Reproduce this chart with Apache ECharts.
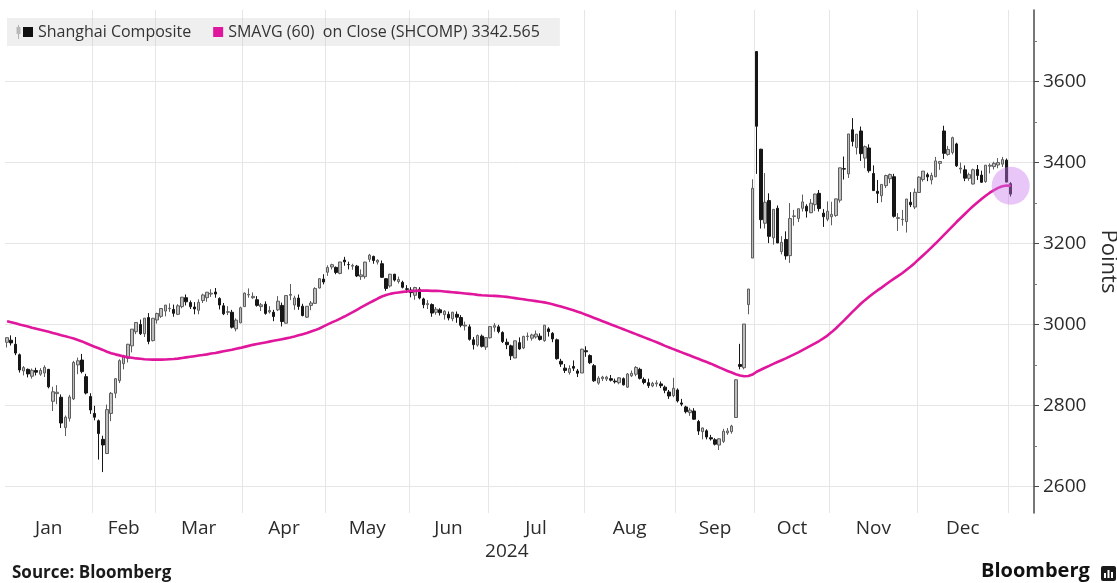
<!DOCTYPE html>
<html>
<head>
<meta charset="utf-8">
<style>
  html, body { margin: 0; padding: 0; background: #ffffff; }
  #chart { width: 1117px; height: 583px; }
</style>
<script src="https://cdn.jsdelivr.net/npm/echarts@6/dist/echarts.min.js"></script>
</head>
<body>
<div id="chart"></div>
<script>
// Trading sessions of the Shanghai exchange, Jan 3 2024 to Jan 2 2025 (day of month per month)
const monthNames = ['Jan', 'Feb', 'Mar', 'Apr', 'May', 'Jun', 'Jul', 'Aug', 'Sep', 'Oct', 'Nov', 'Dec'];
const yearLabel = '2024';
const sessionDays = [
  [3, 4, 5, 8, 9, 10, 11, 12, 15, 16, 17, 18, 19, 22, 23, 24, 25, 26, 29, 30, 31],
  [1, 2, 5, 6, 7, 8, 19, 20, 21, 22, 23, 26, 27, 28, 29],
  [1, 4, 5, 6, 7, 8, 11, 12, 13, 14, 15, 18, 19, 20, 21, 22, 25, 26, 27, 28, 29],
  [1, 2, 3, 8, 9, 10, 11, 12, 15, 16, 17, 18, 19, 22, 23, 24, 25, 26, 29, 30],
  [6, 7, 8, 9, 10, 13, 14, 15, 16, 17, 20, 21, 22, 23, 24, 27, 28, 29, 30, 31],
  [3, 4, 5, 6, 7, 11, 12, 13, 14, 17, 18, 19, 20, 21, 24, 25, 26, 27, 28],
  [1, 2, 3, 4, 5, 8, 9, 10, 11, 12, 15, 16, 17, 18, 19, 22, 23, 24, 25, 26, 29, 30, 31],
  [1, 2, 5, 6, 7, 8, 9, 12, 13, 14, 15, 16, 19, 20, 21, 22, 23, 26, 27, 28, 29, 30],
  [2, 3, 4, 5, 6, 9, 10, 11, 12, 13, 18, 19, 20, 23, 24, 25, 26, 27, 30],
  [8, 9, 10, 11, 14, 15, 16, 17, 18, 21, 22, 23, 24, 25, 28, 29, 30, 31],
  [1, 4, 5, 6, 7, 8, 11, 12, 13, 14, 15, 18, 19, 20, 21, 22, 25, 26, 27, 28, 29],
  [2, 3, 4, 5, 6, 9, 10, 11, 12, 13, 16, 17, 18, 19, 20, 23, 24, 25, 26, 27, 30, 31]
];
const nextYearDays = [2]; // Jan 2025

// Shanghai Composite daily prices, one value per session above
const openPx = [
  2955.9, 2961, 2951, 2925, 2885, 2889, 2872, 2886, 2877, 2880, 2889, 2810, 2829, 2820, 2745, 2768, 2816, 2900, 2912, 2871, 2822,
  2780, 2762, 2716, 2681, 2780, 2830, 2861, 2903, 2916, 2947, 2982, 3000, 2977, 3017, 2960,
  3011, 3020, 3033, 3039, 3037, 3025, 3044, 3066, 3054, 3043, 3035, 3059, 3066, 3075, 3080, 3064, 3046, 3030, 3030, 2989, 3004,
  3044, 3073, 3066, 3061, 3044, 3050, 3031, 3030, 3036, 3047, 3003, 3072, 3048, 3065, 3045, 3018, 3047, 3052, 3090, 3112,
  3129, 3142, 3141, 3126, 3159, 3148, 3144, 3144, 3118, 3118, 3161, 3168, 3154, 3150, 3113, 3095, 3124, 3106, 3104, 3088,
  3085, 3072, 3087, 3063, 3049, 3049, 3030, 3036, 3024, 3025, 3014, 3025, 3017, 2996, 2994, 2962, 2949, 2971, 2944,
  2967, 2993, 2994, 2980, 2956, 2947, 2917, 2955, 2942, 2970, 2966, 2969, 2971, 2960, 2989, 2978, 2962, 2909, 2892, 2881, 2896, 2885, 2880,
  2935, 2923, 2898, 2855, 2866, 2865, 2866, 2860, 2856, 2866, 2845, 2873, 2877, 2889, 2864, 2856, 2848, 2853, 2853, 2845, 2833, 2824,
  2838, 2806, 2796, 2782, 2786, 2760, 2735, 2737, 2720, 2715, 2702, 2711, 2732, 2735, 2770, 2901, 2893, 3049, 3164,
  3674.4, 3433, 3250, 3306, 3214, 3287, 3180, 3210, 3170, 3267, 3262, 3287, 3292, 3276, 3296, 3324, 3275, 3260,
  3266, 3269, 3307, 3385, 3372, 3481, 3437, 3478, 3411, 3436, 3373, 3329, 3318, 3343, 3360, 3365, 3262, 3259, 3254, 3302, 3290,
  3326, 3358, 3370, 3357, 3365, 3398, 3478, 3420, 3425, 3446, 3384, 3382, 3361, 3347, 3383, 3369, 3353, 3391, 3390, 3394, 3396, 3406,
  3347.9
];
const closePx = [
  2967.3, 2954.4, 2929.2, 2887.5, 2893.3, 2877.7, 2886.7, 2882.0, 2886.3, 2894.0, 2845.8, 2833.6, 2832.3, 2756.3, 2770.7, 2820.8, 2906.1, 2910.2, 2883.4, 2830.5, 2788.6,
  2770.7, 2730.2, 2702.2, 2789.5, 2829.7, 2865.9, 2910.5, 2922.7, 2951.0, 2988.4, 3004.9, 2977.0, 3015.5, 2957.9, 3015.2,
  3027.0, 3039.3, 3047.8, 3039.9, 3027.4, 3046.0, 3067.2, 3055.9, 3043.8, 3038.2, 3054.6, 3072.8, 3079.7, 3077.1, 3075.0, 3048.0, 3026.3, 3031.5, 2993.1, 3010.7, 3041.2,
  3077.4, 3074.1, 3069.3, 3047.1, 3048.5, 3027.3, 3034.3, 3019.5, 3057.4, 3007.1, 3071.4, 3074.2, 3065.3, 3044.6, 3022.0, 3044.8, 3052.9, 3088.6, 3113.0, 3104.8,
  3140.7, 3147.7, 3128.5, 3154.3, 3154.6, 3148.0, 3145.8, 3119.9, 3122.4, 3154.0, 3171.2, 3158.0, 3158.5, 3116.4, 3088.9, 3124.0, 3109.6, 3111.0, 3091.7, 3086.8,
  3078.5, 3091.2, 3065.4, 3048.8, 3051.3, 3028.1, 3037.5, 3028.9, 3032.6, 3015.9, 3030.2, 3018.0, 2998.1, 2998.1, 2963.1, 2950.0, 2972.5, 2945.9, 2967.4,
  2994.7, 2997.0, 2982.4, 2957.6, 2949.9, 2922.5, 2959.4, 2939.4, 2970.4, 2971.3, 2974.0, 2976.3, 2963.0, 2998.1, 2982.3, 2964.2, 2915.4, 2902.0, 2886.4, 2890.9, 2891.9, 2879.3, 2938.8,
  2932.4, 2905.3, 2860.7, 2867.3, 2869.9, 2869.8, 2862.2, 2858.2, 2868.0, 2850.7, 2877.4, 2879.4, 2893.7, 2866.7, 2856.6, 2848.8, 2854.4, 2855.5, 2848.7, 2837.4, 2823.1, 2842.2,
  2811.0, 2803.0, 2784.3, 2788.2, 2765.8, 2736.5, 2744.2, 2721.8, 2717.1, 2704.1, 2717.3, 2736.0, 2736.8, 2748.9, 2863.1, 2896.3, 3000.9, 3087.5, 3336.5,
  3489.8, 3258.9, 3301.9, 3217.7, 3284.3, 3201.3, 3203.0, 3169.4, 3261.6, 3268.1, 3285.9, 3302.8, 3280.3, 3299.7, 3322.2, 3286.4, 3266.2, 3279.8,
  3272.0, 3310.2, 3387.0, 3383.8, 3470.7, 3452.3, 3470.1, 3422.0, 3439.3, 3379.8, 3330.7, 3323.9, 3346.0, 3368.0, 3370.4, 3267.2, 3263.8, 3259.8, 3309.8, 3295.7, 3326.5,
  3364.0, 3378.8, 3364.7, 3368.1, 3404.1, 3402.5, 3422.7, 3432.5, 3461.5, 3391.9, 3386.3, 3361.5, 3370.0, 3382.2, 3368.1, 3351.3, 3393.5, 3393.4, 3398.1, 3400.1, 3407.3, 3351.8,
  3322.0
];
const lowPx = [
  2943, 2948, 2924, 2881, 2874, 2869, 2866, 2874, 2873, 2870, 2842, 2786, 2803, 2744, 2724, 2760, 2813, 2877, 2879, 2827, 2779,
  2763, 2666, 2635.1, 2681, 2761, 2818, 2855, 2889, 2906, 2931, 2976, 2974, 2969, 2951, 2958,
  3002, 3016, 3020, 3031, 3019, 3023, 3040, 3047, 3038, 3025, 3025, 3053, 3056, 3068, 3066, 3037, 3023, 3023, 2990, 2983, 3003,
  3044, 3066, 3063, 3044, 3033, 3024, 3027, 3008, 3033, 2995, 3002, 3060, 3036, 3036, 3020, 3016, 3035, 3051, 3089, 3099,
  3120, 3136, 3124, 3124, 3145, 3136, 3135, 3117, 3110, 3113, 3154, 3150, 3148, 3115, 3083, 3091, 3106, 3101, 3089, 3078,
  3067, 3061, 3062, 3040, 3038, 3019, 3024, 3022, 3012, 3010, 3008, 3004, 2993, 2985, 2960, 2938, 2945, 2943, 2937,
  2965, 2982, 2978, 2954, 2939, 2912, 2917, 2937, 2939, 2960, 2960, 2965, 2960, 2957, 2970, 2956, 2913, 2895, 2880, 2876, 2885, 2870, 2880,
  2920, 2902, 2858, 2851, 2860, 2860, 2859, 2854, 2852, 2849, 2843, 2870, 2872, 2864, 2852, 2843, 2845, 2846, 2843, 2830, 2816, 2820,
  2807, 2798, 2780, 2774, 2764, 2727, 2716, 2716, 2713, 2701, 2689.7, 2707, 2727, 2730, 2769, 2889, 2889, 3025, 3164,
  3372, 3237, 3237, 3201, 3197, 3201, 3173, 3160, 3152, 3244, 3253, 3279, 3264, 3275, 3280, 3279, 3241, 3255,
  3245, 3266, 3301, 3358, 3362, 3440, 3420, 3404, 3386, 3375, 3330, 3300, 3302, 3337, 3349, 3264, 3231, 3244, 3227, 3290, 3285,
  3325, 3353, 3354, 3346, 3364, 3382, 3409, 3417, 3420, 3389, 3373, 3354, 3355, 3346, 3357, 3350, 3350, 3373, 3383, 3386, 3389, 3351,
  3316
];
const highPx = [
  2967.3, 2973, 2969, 2928, 2897, 2891, 2891, 2893, 2892, 2899, 2890, 2846, 2850, 2827, 2775, 2826, 2910, 2918, 2927, 2878, 2830,
  2799, 2765, 2725, 2802, 2833, 2867, 2914, 2925, 2952, 2988.4, 3004.9, 3012, 3015.5, 3028, 3016,
  3029, 3040, 3048, 3052, 3049, 3050, 3068, 3074, 3059, 3055, 3062, 3076, 3080, 3087, 3090, 3067, 3053, 3045, 3036, 3015, 3044,
  3079, 3089, 3079, 3070, 3053, 3057, 3045, 3036, 3070, 3054, 3071.4, 3100, 3071, 3074, 3051, 3045, 3058, 3092, 3114, 3124,
  3146, 3150, 3143, 3154.5, 3167, 3155, 3150, 3147, 3136, 3155, 3174.3, 3170, 3161, 3158, 3114, 3125, 3125, 3118, 3108, 3097,
  3092, 3093, 3092, 3066, 3060, 3052, 3043, 3040, 3035, 3032, 3031, 3032, 3023, 3007, 3000, 2969, 2975, 2975, 2968,
  2995, 3003, 2999, 2983, 2965, 2950, 2960, 2968, 2972, 2980, 2977, 2985, 2978, 2998.1, 2993, 2981, 2965, 2915, 2902, 2899, 2911, 2890, 2940,
  2946, 2926, 2902, 2872, 2873, 2873, 2875, 2866, 2870, 2869, 2880, 2886, 2897, 2893, 2869, 2866, 2858, 2862, 2859, 2849, 2838, 2868,
  2842, 2816, 2799, 2794, 2793, 2764, 2745, 2741, 2727, 2719, 2719, 2742, 2744, 2752, 2864, 2952, 3000.9, 3087.8, 3358.6,
  3674.4, 3434, 3374, 3324, 3285, 3294, 3218, 3230, 3300, 3283, 3286, 3321, 3297, 3310, 3323, 3332, 3285, 3304,
  3303, 3311, 3387, 3415, 3470.7, 3509.8, 3470.3, 3489, 3442, 3445, 3393, 3357, 3347, 3370, 3373, 3372, 3275, 3283, 3310, 3327, 3336,
  3366, 3379, 3375, 3375, 3414, 3404, 3491, 3441, 3464, 3449, 3400, 3393, 3375, 3385, 3394, 3380, 3394, 3398, 3402, 3411, 3414, 3410,
  3351.7
];

// 60-session simple moving average of the close
const sma60 = [
  3008, 3005.5, 3003, 3000, 2997.5, 2995, 2992, 2989.5, 2987, 2984.5, 2982, 2979, 2976.5, 2973.5, 2971, 2968, 2965, 2961.5, 2958, 2953.5, 2949,
  2945, 2941, 2937, 2932.5, 2929, 2926, 2923.5, 2921, 2919, 2917.5, 2916, 2915, 2914, 2913.5, 2913,
  2913, 2913, 2913.5, 2914, 2914.5, 2915.5, 2917, 2918.5, 2920, 2921.5, 2923, 2924.5, 2926, 2928, 2929.5, 2931.5, 2933.5, 2935.5, 2937.5, 2940, 2942,
  2944.5, 2947, 2949.5, 2951.5, 2953.5, 2955.5, 2957.5, 2959.5, 2961.5, 2963.5, 2965.5, 2967.5, 2970, 2973, 2976, 2979, 2982.5, 2986, 2990, 2995,
  3000, 3005, 3009.5, 3014.5, 3019.5, 3025, 3030.5, 3036, 3042, 3047.5, 3053, 3058.5, 3064, 3069, 3072.5, 3075.5, 3077.5, 3079, 3080.5, 3081.5,
  3082.5, 3083, 3083.5, 3083.5, 3083.5, 3083, 3083, 3082.5, 3081.5, 3080.5, 3079.5, 3078.5, 3077.5, 3076.5, 3075.5, 3074.5, 3073, 3072, 3071.5,
  3071, 3070.5, 3070, 3069, 3068, 3066.5, 3065, 3063.5, 3062, 3060.5, 3059, 3057.5, 3056, 3054.5, 3052.5, 3050, 3047, 3044, 3041, 3038, 3035, 3031.5, 3028,
  3024, 3020, 3016, 3012, 3008, 3004, 3000, 2996, 2992, 2988, 2984, 2980, 2976, 2972, 2968, 2964, 2960, 2956, 2951.5, 2947, 2943, 2939,
  2935, 2931, 2927, 2923, 2919, 2915, 2911, 2907, 2903, 2898.5, 2894, 2889.5, 2885, 2881, 2877, 2874, 2872, 2872.5, 2876,
  2883, 2888, 2893, 2897.5, 2902.5, 2907, 2911.5, 2916, 2921, 2926, 2931, 2936.5, 2942, 2947.5, 2953, 2959, 2965.5, 2972.5,
  2981, 2990, 3000, 3010, 3020.5, 3031, 3041, 3051, 3060, 3068.5, 3076.5, 3084, 3091, 3098.5, 3106, 3113, 3120, 3127, 3135, 3143, 3152,
  3161.5, 3171, 3180.5, 3190.5, 3200.5, 3211, 3221.5, 3232, 3242.5, 3253, 3263, 3273, 3283, 3292.5, 3301.5, 3310, 3318, 3325.5, 3332, 3337.5, 3341.5, 3343.5,
  3342.565
];

// Value axis ticks
const yTicks = [2600, 2800, 3000, 3200, 3400, 3600];
const yMinorTicks = [2700, 2900, 3100, 3300, 3500, 3700];

// ---- derived layout helpers (session index space) ----
const monthStart = [];
const monthCenter = [];
let cursor = 0;
sessionDays.forEach(days => {
  monthStart.push(cursor);
  monthCenter.push(cursor + (days.length - 1) / 2);
  cursor += days.length;
});
const sessionsIn2024 = cursor;
const totalSessions = sessionsIn2024 + nextYearDays.length;
// month separators sit between the last session of one month and the first of the next
const monthSeparators = monthStart.slice(1).map(s => s - 0.5).concat([sessionsIn2024 - 0.5]);
const yearCenter = (sessionsIn2024 - 1) / 2;

const candles = openPx.map((o, i) => [i, o, closePx[i], lowPx[i], highPx[i]]);
const smaLine = sma60.map((v, i) => [i, v]);
const lastIdx = totalSessions - 1;
const lastSma = sma60[lastIdx];

const priceName = 'Shanghai Composite';
const smaName = 'SMAVG (60)  on Close (SHCOMP) ' + lastSma;

const FONT = '"Open Sans", "Noto Sans", sans-serif';
const INK = '#2b2b2b';
const SMA_COLOR = '#e0169c';
const X_MIN = -0.5;
const X_MAX = 246.6;
const Y_MIN = 2534;
const Y_MAX = 3777;

const chart = echarts.init(document.getElementById('chart'), null, { renderer: 'canvas' });

chart.setOption({
  animation: false,
  backgroundColor: '#ffffff',
  textStyle: { fontFamily: FONT },
  grid: { left: 5, right: 83, top: 10, bottom: 70, containLabel: false, outerBoundsMode: 'none' },
  legend: {
    left: 7,
    top: 18,
    padding: [6, 20, 6, 16],
    itemWidth: 10,
    itemHeight: 10,
    itemGap: 22,
    backgroundColor: 'rgba(190,190,190,0.25)',
    selectedMode: false,
    textStyle: { fontFamily: FONT, fontSize: 16, color: '#333333' },
    data: [
      { name: priceName, icon: 'rect', itemStyle: { color: '#111111', borderWidth: 0 } },
      { name: smaName, icon: 'rect', itemStyle: { color: SMA_COLOR, borderWidth: 0 } }
    ]
  },
  xAxis: [
    {
      type: 'value',
      position: 'bottom',
      min: X_MIN,
      max: X_MAX,
      axisLine: { show: false, onZero: false },
      axisTick: { show: false, customValues: monthSeparators },
      splitLine: { show: true, lineStyle: { color: '#e6e6e6', width: 1 } },
      axisLabel: {
        customValues: monthCenter,
        margin: 6,
        color: INK,
        fontSize: 19,
        fontFamily: FONT,
        formatter: v => {
          const k = monthCenter.findIndex(c => Math.abs(c - v) < 1e-6);
          return k >= 0 ? monthNames[k] : '';
        }
      }
    },
    {
      type: 'value',
      position: 'bottom',
      offset: 0,
      min: X_MIN,
      max: X_MAX,
      axisLine: { show: false, onZero: false },
      axisTick: { show: false },
      splitLine: { show: false },
      axisLabel: {
        customValues: [yearCenter],
        margin: 29,
        color: INK,
        fontSize: 19,
        fontFamily: FONT,
        formatter: () => yearLabel
      }
    }
  ],
  yAxis: [
    {
      type: 'value',
      position: 'right',
      min: Y_MIN,
      max: Y_MAX,
      name: 'Points',
      nameLocation: 'middle',
      nameRotate: -90,
      nameGap: 46,
      nameTextStyle: { color: INK, fontSize: 22, fontFamily: FONT },
      axisLine: { show: true, onZero: false, lineStyle: { color: '#4a4a4a', width: 1.5 } },
      axisTick: { show: true, customValues: yTicks, length: 5, lineStyle: { color: '#4a4a4a', width: 1 } },
      axisLabel: { customValues: yTicks, margin: 9, color: INK, fontSize: 19, fontFamily: FONT, formatter: v => String(v) },
      splitLine: { show: true, lineStyle: { color: '#e6e6e6', width: 1 } }
    },
    {
      type: 'value',
      position: 'right',
      offset: 0,
      min: Y_MIN,
      max: Y_MAX,
      axisLine: { show: false, onZero: false },
      axisTick: { show: true, customValues: yMinorTicks, length: 3, lineStyle: { color: '#7a7a7a', width: 1 } },
      axisLabel: { show: false },
      splitLine: { show: false }
    }
  ],
  series: [
    {
      type: 'candlestick',
      name: priceName,
      data: candles,
      barWidth: 3,
      itemStyle: {
        color: '#bdbdbd',
        color0: '#161616',
        borderColor: '#5e5e5e',
        borderColor0: '#161616',
        borderWidth: 1
      },
      emphasis: { disabled: true },
      z: 2
    },
    {
      type: 'line',
      name: smaName,
      data: smaLine,
      showSymbol: false,
      symbol: 'none',
      lineStyle: { color: SMA_COLOR, width: 2.6 },
      itemStyle: { color: SMA_COLOR },
      emphasis: { disabled: true },
      z: 3,
      markPoint: {
        silent: true,
        symbol: 'circle',
        symbolSize: 38,
        itemStyle: { color: 'rgba(200,120,235,0.42)' },
        label: { show: false },
        data: [{ coord: [lastIdx, lastSma] }]
      }
    }
  ],
  graphic: [
    // small grey candle glyph at the head of the legend
    { type: 'line', z: 200, shape: { x1: 18.5, y1: 25, x2: 18.5, y2: 39 }, style: { stroke: '#b0b0b0', lineWidth: 1 } },
    { type: 'rect', z: 200, shape: { x: 16.5, y: 27, width: 4, height: 7 }, style: { fill: '#b8b8b8' } },
    { type: 'text', z: 200, left: 12, top: 565,
      style: { text: 'Source: Bloomberg', font: 'bold 17px ' + FONT, fill: '#1a1a1a' } },
    { type: 'text', z: 200, left: 981, top: 561,
      style: { text: 'Bloomberg', font: 'bold 20px ' + FONT, fill: '#111111' } },
    { type: 'group', z: 200, left: 1101, top: 566, children: [
      { type: 'rect', shape: { x: 0, y: 0, width: 15, height: 15, r: 2 }, style: { fill: '#1a1a1a' } },
      { type: 'rect', shape: { x: 3, y: 7, width: 2, height: 5 }, style: { fill: '#ffffff' } },
      { type: 'rect', shape: { x: 6.5, y: 4, width: 2, height: 8 }, style: { fill: '#ffffff' } },
      { type: 'rect', shape: { x: 10, y: 6, width: 2, height: 6 }, style: { fill: '#ffffff' } }
    ] }
  ]
});
</script>
</body>
</html>
